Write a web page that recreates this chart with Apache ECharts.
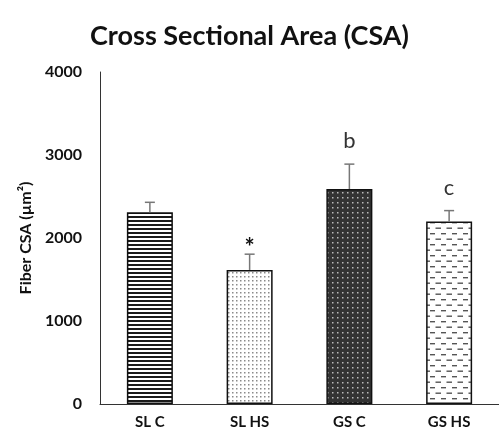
<!DOCTYPE html>
<html><head><meta charset="utf-8">
<script src="https://cdn.jsdelivr.net/npm/echarts@6/dist/echarts.min.js"></script>
<style>html,body{margin:0;padding:0;background:#fff}#c{width:499px;height:435px}</style>
</head><body><div id="c"></div>
<script>
const categories = ['SL C', 'SL HS', 'GS C', 'GS HS'];
const means = [2310, 1615, 2590, 2200];
const errors = [120, 190, 300, 130];
const annotations = ['', '*', 'b', 'c'];
const yTicks = [0, 1000, 2000, 3000, 4000];

function pat(w, h, draw) {
  const c = document.createElement('canvas'); c.width = w; c.height = h;
  const g = c.getContext('2d'); draw(g); return c;
}
const patterns = [
  pat(4, 4, g => { g.fillStyle = '#fff'; g.fillRect(0,0,4,4); g.fillStyle = '#1a1a1a'; g.fillRect(0,0,4,2); }),
  pat(8, 8, g => { g.fillStyle = '#fff'; g.fillRect(0,0,8,8); g.fillStyle = '#8a8a8a';
    g.fillRect(0,0,1.5,1.5); g.fillRect(4,4,1.5,1.5); g.fillRect(4,0,1.5,1.5); g.fillRect(0,4,1.5,1.5); }),
  pat(5, 5, g => { g.fillStyle = '#333'; g.fillRect(0,0,5,5); g.fillStyle = '#bbb'; g.fillRect(2,2,1.5,1.5); }),
  pat(11, 11, g => { g.fillStyle = '#fff'; g.fillRect(0,0,11,11); g.fillStyle = '#555';
    g.fillRect(1,2,5,1.4); g.fillRect(6.5,7.5,5,1.4); g.fillRect(-4,7.5,5,1.4); })
];

const chart = echarts.init(document.getElementById('c'), null, {renderer: 'canvas'});
const ff = 'Lato, "Open Sans", sans-serif';
chart.setOption({
  animation: false,
  title: { text: 'Cross Sectional Area (CSA)', left: 'center', top: 18,
    textStyle: { fontFamily: ff, fontWeight: 'bold', fontSize: 27, color: '#111' } },
  grid: { left: 100, right: -5, top: 72, bottom: 31 },
  xAxis: { type: 'category', data: categories,
    axisLine: { lineStyle: { color: '#333', width: 1 } },
    axisTick: { alignWithLabel: true, length: 4, lineStyle: { color: '#333' } },
    axisLabel: { fontFamily: ff, fontWeight: 'bold', fontSize: 15, color: '#111', margin: 11 } },
  yAxis: { type: 'value', min: 0, max: 4000, interval: 1000,
    name: 'Fiber CSA (µm²)', nameLocation: 'middle', nameGap: 64,
    nameTextStyle: { fontFamily: ff, fontWeight: 'bold', fontSize: 16, color: '#111' },
    axisLine: { show: true, lineStyle: { color: '#333' } },
    axisTick: { show: false }, splitLine: { show: false },
    axisLabel: { fontFamily: ff, fontWeight: 'bold', fontSize: 16, color: '#111', margin: 18,
      formatter: v => yTicks.includes(v) ? String(v) : '' } },
  series: [
    { type: 'bar', barWidth: 46,
      data: means.map((v, i) => ({ value: v, itemStyle: { color: { image: patterns[i], repeat: 'repeat' }, borderColor: '#111', borderWidth: 1.5 } })) },
    { type: 'custom', z: 5,
      data: means.map((v, i) => [i, v, errors[i]]),
      renderItem: (params, api) => {
        const x = api.coord([api.value(0), api.value(1)]);
        const top = api.coord([api.value(0), api.value(1) + api.value(2)]);
        const ann = annotations[params.dataIndex];
        const children = [
          { type: 'line', shape: { x1: x[0], y1: x[1], x2: top[0], y2: top[1] }, style: { stroke: '#777', lineWidth: 1.5 } },
          { type: 'line', shape: { x1: top[0] - 5, y1: top[1], x2: top[0] + 5, y2: top[1] }, style: { stroke: '#777', lineWidth: 1.5 } }
        ];
        if (ann) {
          children.push({ type: 'text', style: { text: ann, x: top[0], y: top[1] - (ann === '*' ? -6 : 12),
            align: 'center', verticalAlign: 'bottom', fill: ann === '*' ? '#111' : '#333',
            font: (ann === '*' ? 'bold 24px ' : '22px ') + ff } });
        }
        return { type: 'group', children };
      } }
  ]
});
</script></body></html>
